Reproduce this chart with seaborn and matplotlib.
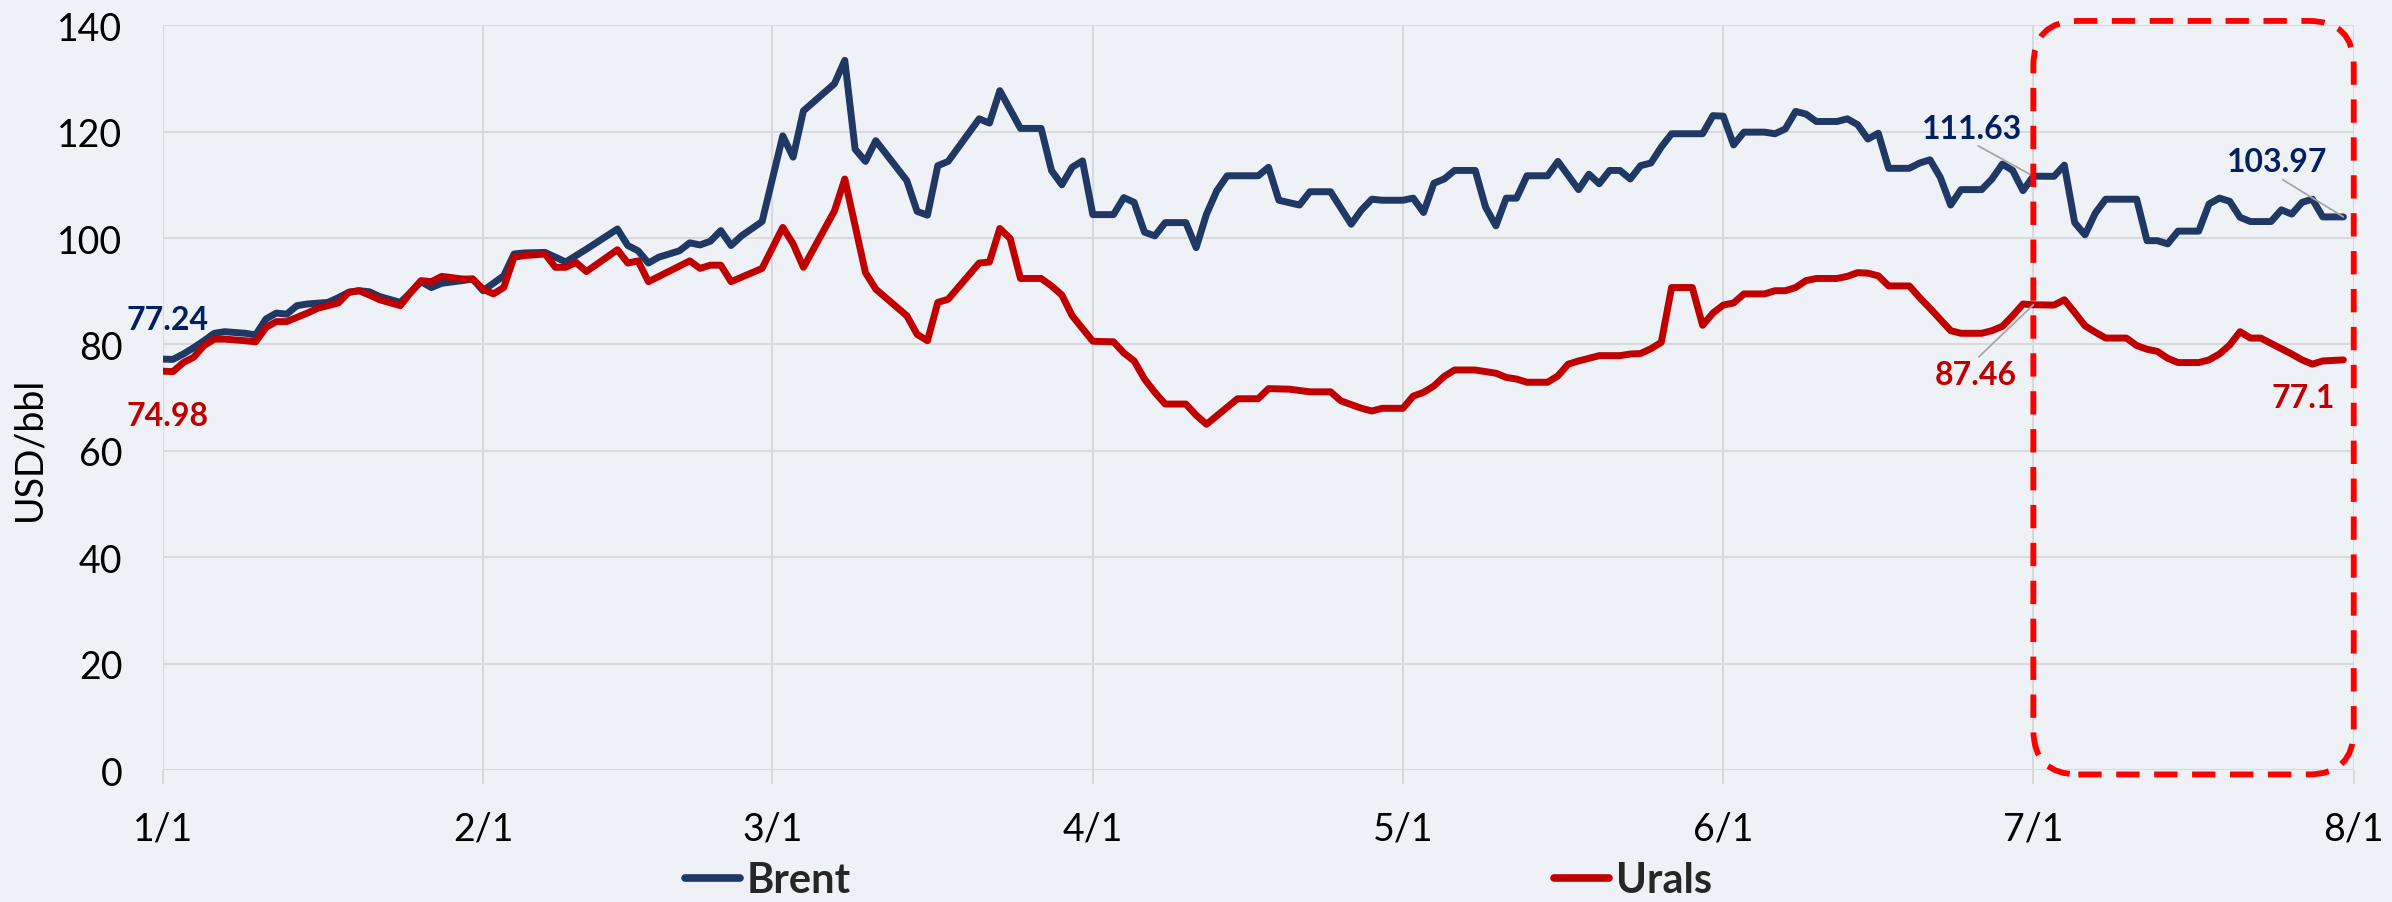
import pandas as pd
import matplotlib
matplotlib.use("Agg")
import matplotlib.pyplot as plt
import matplotlib.dates as mdates
from matplotlib.lines import Line2D
from matplotlib.patches import FancyBboxPatch
from matplotlib.transforms import IdentityTransform
import seaborn as sns

# ==========================================================
# DATA  (day = days counted from 1 Jan 2022, price in USD/bbl)
# ==========================================================

brent_day = [0, 1, 2, 3, 4, 5, 6, 8, 9, 10, 11, 12, 13, 14, 16, 17, 18, 19, 20, 21, 23, 24, 25, 26, 27, 29,
             30, 31, 33, 34, 35, 37, 38, 39, 40, 41, 44, 45, 46, 47, 48, 50, 51, 52, 53, 54, 55, 56, 58,
             60, 61, 62, 65, 66, 67, 68, 69, 72, 73, 74, 75, 76, 79, 80, 81, 83, 85, 86, 87, 88, 89,
             90, 92, 93, 94, 95, 96, 97, 99, 100, 101, 102, 103, 106, 107, 108, 110, 111, 113, 115, 116, 117, 118, 120,
             121, 122, 123, 124, 125, 127, 128, 129, 130, 131, 132, 134, 135, 137, 138, 139, 140, 141, 142, 143,
             144, 145, 146, 149, 150, 151,
             152, 153, 155, 156, 157, 158, 159, 160, 162, 163, 164, 165, 166, 167, 169, 170, 171, 172, 173, 174,
             176, 177, 178, 179, 180, 181,
             183, 184, 185, 186, 187, 188, 191, 192, 193, 194, 195, 197, 198, 199, 200, 201, 202, 204, 205, 206,
             207, 208, 209, 211]

brent_usd = [77.24, 77.2, 78.2, 79.4, 80.7, 82.1, 82.4, 82.1, 81.8, 84.8, 85.9, 85.7, 87.3, 87.6, 87.9, 88.8,
             89.8, 90.1, 89.9, 89.0, 87.9, 89.8, 91.8, 90.7, 91.5, 92.0,
             92.3, 90.1, 92.9, 97.0, 97.2, 97.3, 96.4, 95.5, 96.7, 97.9, 101.7, 98.6, 97.6, 95.3, 96.4, 97.6,
             99.1, 98.7, 99.4, 101.4, 98.6, 100.4, 103.1,
             119.2, 115.2, 123.9, 129.0, 133.4, 116.7, 114.4, 118.3, 110.8, 105.0, 104.3, 113.6, 114.4, 122.4,
             121.6, 127.7, 120.6, 120.6, 112.7, 110.0, 113.3, 114.5,
             104.4, 104.4, 107.6, 106.7, 101.1, 100.4, 102.9, 102.9, 98.2, 104.5, 108.9, 111.7, 111.7, 113.3,
             107.1, 106.2, 108.7, 108.7, 102.6, 105.3, 107.3, 107.1, 107.1,
             107.5, 104.8, 110.3, 111.1, 112.7, 112.7, 105.8, 102.3, 107.5, 107.5, 111.7, 111.7, 114.4, 109.1,
             112.0, 110.2, 112.7, 112.7, 111.1, 113.6, 114.1, 117.1, 119.6, 119.6, 123.0, 122.9,
             117.5, 119.9, 119.9, 119.6, 120.5, 123.8, 123.3, 121.9, 121.9, 122.4, 121.3, 118.6, 119.7, 113.1,
             113.1, 114.1, 114.7, 111.4, 106.2, 109.1, 109.1, 111.1, 113.9, 112.7, 108.9, 111.63,
             111.6, 113.7, 102.9, 100.6, 104.7, 107.3, 107.3, 99.5, 99.5, 98.9, 101.3, 101.3, 106.4, 107.5,
             106.9, 103.9, 103.1, 103.1, 105.3, 104.5, 106.7, 107.3, 103.97, 103.97]

urals_day = [0, 1, 2, 3, 4, 5, 6, 8, 9, 10, 11, 12, 13, 14, 15, 17, 18, 19, 20, 21, 23, 24, 25, 26, 27, 29,
             30, 31, 32, 33, 34, 35, 37, 38, 39, 40, 41, 44, 45, 46, 47, 51, 52, 53, 54, 55, 58,
             60, 61, 62, 65, 66, 68, 69, 72, 73, 74, 75, 76, 79, 80, 81, 82, 83, 85, 86, 87, 88,
             90, 92, 93, 94, 95, 96, 97, 99, 100, 101, 102, 104, 106, 107, 109, 111, 113, 114, 116, 117, 118, 120,
             121, 122, 123, 124, 125, 127, 129, 130, 131, 132, 134, 135, 136, 137, 138, 139, 141, 142, 143,
             144, 145, 146, 148, 149, 150, 151,
             152, 153, 155, 156, 157, 158, 159, 160, 162, 163, 164, 165, 166, 167, 169, 170, 171, 172, 173, 174,
             176, 177, 178, 179, 180, 181,
             183, 184, 185, 186, 187, 188, 190, 191, 192, 193, 194, 195, 197, 198, 199, 200, 201, 202, 203, 205,
             206, 207, 208, 209, 211]

urals_usd = [74.98, 74.9, 76.6, 77.6, 79.8, 81.0, 81.0, 80.7, 80.5, 83.2, 84.3, 84.3, 85.1, 85.9, 86.8, 87.8,
             89.8, 90.1, 89.3, 88.4, 87.3, 89.8, 92.0, 91.8, 92.8, 92.3,
             92.3, 90.4, 89.5, 90.7, 96.4, 96.7, 97.0, 94.5, 94.5, 95.4, 93.7, 97.8, 95.3, 95.7, 91.8, 95.7,
             94.3, 94.9, 94.9, 91.8, 94.3,
             102.0, 98.9, 94.5, 105.1, 111.1, 93.5, 90.4, 85.4, 81.9, 80.7, 87.9, 88.5, 95.3, 95.5, 101.8,
             99.9, 92.4, 92.4, 91.0, 89.3, 85.4,
             80.6, 80.5, 78.4, 76.9, 73.5, 71.0, 68.8, 68.8, 66.7, 65.0, 66.6, 69.8, 69.8, 71.7, 71.6, 71.1,
             71.1, 69.4, 68.0, 67.5, 68.0, 68.0,
             70.3, 71.0, 72.2, 74.0, 75.2, 75.2, 74.6, 73.8, 73.5, 72.9, 72.9, 74.1, 76.3, 76.9, 77.4, 77.9,
             77.9, 78.2, 78.3, 79.2, 80.4, 90.7, 90.7, 83.6, 85.9, 87.4,
             87.8, 89.5, 89.5, 90.1, 90.1, 90.7, 92.0, 92.4, 92.4, 92.8, 93.5, 93.4, 92.9, 91.0, 91.0, 88.8,
             86.8, 84.7, 82.6, 82.1, 82.1, 82.6, 83.4, 85.4, 87.6, 87.46,
             87.4, 88.4, 86.0, 83.5, 82.3, 81.2, 81.2, 79.8, 79.1, 78.7, 77.4, 76.6, 76.6, 77.1, 78.2, 79.9,
             82.4, 81.2, 81.2, 79.2, 78.2, 77.1, 76.3, 76.9, 77.1]

series_names = ["Brent", "Urals"]
tick_dates = ["2022-01-01", "2022-02-01", "2022-03-01", "2022-04-01",
              "2022-05-01", "2022-06-01", "2022-07-01", "2022-08-01"]
tick_labels = ["1/1", "2/1", "3/1", "4/1", "5/1", "6/1", "7/1", "8/1"]
y_ticks = [0, 20, 40, 60, 80, 100, 120, 140]

# value labels: (series, day, text)
callouts = [("Brent", 0, "77.24"), ("Urals", 0, "74.98"),
            ("Brent", 181, "111.63"), ("Urals", 181, "87.46"),
            ("Brent", 211, "103.97"), ("Urals", 211, "77.1")]

highlight_start = "2022-07-01"
highlight_end = "2022-08-01"

# ==========================================================
# BUILD DATAFRAME
# ==========================================================

start = pd.Timestamp("2022-01-01")

df = pd.concat([
    pd.DataFrame({"date": start + pd.to_timedelta(brent_day, unit="D"),
                  "usd": brent_usd, "series": "Brent"}),
    pd.DataFrame({"date": start + pd.to_timedelta(urals_day, unit="D"),
                  "usd": urals_usd, "series": "Urals"}),
], ignore_index=True)

lookup = {"Brent": dict(zip(brent_day, brent_usd)),
          "Urals": dict(zip(urals_day, urals_usd))}

# ==========================================================
# STYLE
# ==========================================================

sns.set_theme(style="whitegrid")
plt.rcParams["font.family"] = ["Lato", "DejaVu Sans"]

bg = "#EEF2F6"
grid_c = "#D9D9D9"
colors = {"Brent": "#203864", "Urals": "#C00000"}
label_colors = {"Brent": "#002060", "Urals": "#C00000"}

# ==========================================================
# PLOT
# ==========================================================

fig = plt.figure(figsize=(23.92, 9.03), dpi=100, facecolor=bg)
ax = fig.add_axes([0.068, 0.146, 0.916, 0.825])
ax.set_facecolor(bg)

sns.lineplot(data=df, x="date", y="usd", hue="series", hue_order=series_names,
             palette=colors, linewidth=5.0, estimator=None, legend=False, ax=ax)

for ln in ax.lines:
    ln.set_solid_joinstyle("round")
    ln.set_solid_capstyle("round")

ax.set_xlim(start, pd.Timestamp(tick_dates[-1]))
ax.set_ylim(y_ticks[0], y_ticks[-1])
ax.set_yticks(y_ticks)
ax.set_xticks(pd.to_datetime(tick_dates))
ax.set_xticklabels(tick_labels)

ax.grid(True, color=grid_c, linewidth=1.5)
for s in ax.spines.values():
    s.set_visible(False)

ax.tick_params(axis="x", length=10.4, width=1.5, color=grid_c, pad=19,
               labelsize=27, labelcolor="black", bottom=True)
ax.tick_params(axis="y", length=0, pad=29, labelsize=27, labelcolor="black")

ax.set_xlabel("")
ax.set_ylabel("USD/bbl", fontsize=27, color="black")
ax.yaxis.set_label_coords(-0.0525, 0.433)

# value labels with thin leader lines
offsets = [(5, 40), (5, -44), (-61, 48), (-58, -70), (-66, 55), (-40, -38)]
leaders = [None, None, (0.5, 0), (0.5, 1), (0.5, 0), None]

for (name, day, text), off, rel in zip(callouts, offsets, leaders):
    xy = (start + pd.Timedelta(days=day), lookup[name][day])
    arrow = None
    if rel is not None:
        arrow = dict(arrowstyle="-", color="#A6A6A6", lw=1.3,
                     shrinkA=0, shrinkB=0, relpos=rel)
    ax.annotate(text, xy=xy, xytext=off, textcoords="offset pixels",
                ha="center", va="center", fontsize=23, fontweight="bold",
                color=label_colors[name], arrowprops=arrow, zorder=6)

# dashed rounded box round July
x0, y0 = ax.transData.transform((mdates.date2num(pd.Timestamp(highlight_start)), -0.8))
x1, y1 = ax.transData.transform((mdates.date2num(pd.Timestamp(highlight_end)), 140.8))
box = FancyBboxPatch((x0, y0), x1 - x0, y1 - y0,
                     boxstyle="round,pad=0,rounding_size=45",
                     transform=IdentityTransform(), fill=False,
                     edgecolor="#FF0000", linewidth=4.2,
                     linestyle=(0, (4, 2.5)), clip_on=False, zorder=7)
fig.add_artist(box)

# legend at the bottom
handles = [Line2D([0], [0], color=colors[n], lw=5.5, solid_capstyle="round")
           for n in series_names]
fig.legend(handles, series_names, loc="center", bbox_to_anchor=(0.501, 0.024),
           ncol=2, frameon=False, handlelength=1.32, handletextpad=0.15,
           columnspacing=16.9, borderpad=0, borderaxespad=0,
           prop=dict(family=["Lato", "DejaVu Sans"], weight="bold", size=30))

fig.savefig("out.png", dpi=100, facecolor=bg)
plt.close()

print("✓ Chart Saved")
